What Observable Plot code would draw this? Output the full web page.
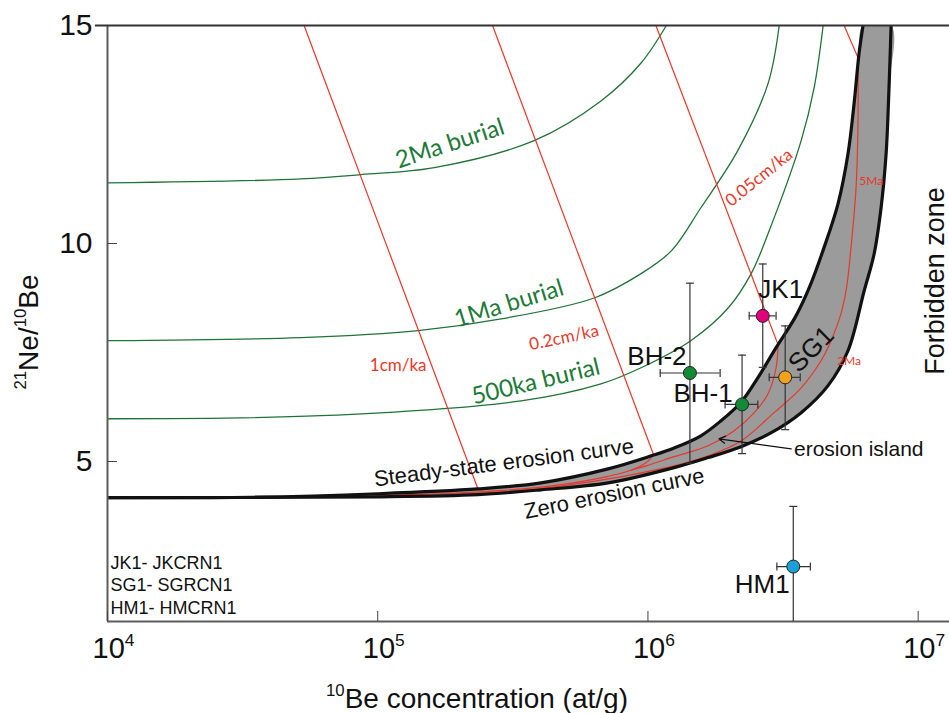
<!DOCTYPE html>
<html>
<head>
<meta charset="utf-8">
<script src="https://cdn.jsdelivr.net/npm/d3@7"></script>
<script src="https://cdn.jsdelivr.net/npm/@observablehq/plot@0.6"></script>
<style>
  body { margin: 0; background: #fff; }
  #chart svg { display: block; }
</style>
</head>
<body>
<div id="chart"></div>
<script>
// ---------- axes ----------
const xTicks = [1e4, 1e5, 1e6, 1e7];
const yTicks = [5, 10, 15];
const xDomain = [1e4, 1.306e7];
const yDomain = [1.33, 15];

// ---------- erosion island (10Be at/g, 21Ne/10Be) ----------
const steadyStateCurve = [[1e4,4.17],[3.4e4,4.18],[1e5,4.26],[2.35e5,4.37],[4.02e5,4.51],[7.12e5,4.83],[1.03e6,5.13],[1.25e6,5.31],[1.57e6,5.59],[1.86e6,5.93],[2.21e6,6.36],[2.55e6,6.92],[2.98e6,7.61],[3.53e6,8.34],[3.95e6,8.98],[4.48e6,9.90],[5.05e6,10.91],[5.50e6,12.06],[5.79e6,13.20],[6.04e6,14.35],[6.25e6,15]];
const zeroErosionCurve = [[1e4,4.17],[1e5,4.19],[2.35e5,4.24],[4.02e5,4.35],[7.12e5,4.51],[1.25e6,4.86],[1.67e6,5.09],[2.21e6,5.34],[2.86e6,5.66],[3.69e6,6.12],[4.64e6,6.74],[5.50e6,7.54],[6.31e6,8.91],[6.87e6,9.76],[7.29e6,10.82],[7.61e6,12.06],[7.80e6,13.57],[7.94e6,15]];

// ---------- burial isochrons (green) ----------
const burial2Ma = [[1e4,11.39],[5.2e4,11.48],[8.67e4,11.58],[1.62e5,11.74],[3.79e5,12.36],[6.7e5,13.27],[9.43e5,14.14],[1.17e6,15]];
const burial1Ma = [[1e4,7.77],[5.2e4,7.84],[1.41e5,8.0],[2.86e5,8.27],[6.32e5,8.75],[9.43e5,9.31],[1.22e6,9.83],[1.57e6,10.82],[2.15e6,12.13],[2.78e6,13.66],[3.06e6,15]];
const burial500ka = [[1e4,5.98],[6.17e4,6.05],[3.39e5,6.39],[6.7e5,6.78],[9.43e5,7.15],[1.44e6,7.77],[1.98e6,8.52],[2.41e6,9.31],[2.78e6,10.22],[3.69e6,12.36],[4.12e6,13.57],[4.45e6,15]];

// ---------- erosion-rate burial trajectories (red) ----------
const rateLabels = ["1cm/ka", "0.2cm/ka", "0.05cm/ka", ""];
const rateTop = [[5.34e4,15],[2.66e5,15],[1.07e6,15],[5.32e6,15]];
const rateEnd = [[2.35e5,4.37],[1.05e6,5.15],[3.03e6,7.68],[5.99e6,14.26]];
// red curves inside the island
const islandCurveA = [[1.05e6,5.15],[9.84e5,4.97],[8.66e5,4.80],[7.12e5,4.66],[4.77e5,4.47],[2.86e5,4.33],[1.87e5,4.27],[1e5,4.22]];
const islandCurveB = [[3.03e6,7.68],[2.98e6,7.15],[2.78e6,6.55],[2.45e6,6.09],[2.08e6,5.70],[1.67e6,5.36],[1.25e6,5.11],[9.84e5,4.90],[8.66e5,4.80]];
const islandCurveC = [[5.99e6,14.26],[5.99e6,12.81],[5.89e6,11.28],[5.64e6,9.90],[5.43e6,8.98],[5.18e6,8.39],[4.76e6,7.77],[4.37e6,7.31],[3.69e6,6.69],[2.93e6,6.12],[2.21e6,5.47],[1.67e6,5.13],[1.25e6,4.90],[9.43e5,4.74],[7.12e5,4.60],[4.02e5,4.38],[2.35e5,4.27]];

// ---------- samples ----------
const samples = ["JK1", "SG1", "BH-2", "BH-1", "HM1"];
const be10 = [2.66e6, 3.22e6, 1.43e6, 2.23e6, 3.45e6];
const be10Low = [2.37e6, 2.81e6, 1.11e6, 1.93e6, 3.00e6];
const be10High = [2.98e6, 3.66e6, 1.85e6, 2.55e6, 3.99e6];
const ratio = [8.34, 6.93, 7.03, 6.31, 2.59];
const ratioLow = [7.16, 5.73, 4.96, 5.18, 1.2];
const ratioHigh = [9.53, 8.11, 9.09, 7.44, 3.97];
const sampleColors = ["#e4007c", "#f6a11b", "#128a36", "#128a36", "#1ba0da"];

// ---------- texts ----------
const legendLines = ["JK1- JKCRN1", "SG1- SGRCN1", "HM1- HMCRN1"];
const burialLabels = [
  {text: "2Ma burial", x: 1.85e5, y: 12.29, rotate: -18},
  {text: "1Ma burial", x: 3.06e5, y: 8.62, rotate: -17},
  {text: "500ka burial", x: 3.85e5, y: 6.83, rotate: -13.5}
];
const rateLabelPos = [
  {text: rateLabels[0], x: 1.19e5, y: 7.19, rotate: 0},
  {text: rateLabels[1], x: 4.89e5, y: 7.84, rotate: -12},
  {text: rateLabels[2], x: 2.58e6, y: 11.51, rotate: -39}
];
const ageLabels = [
  {text: "5Ma", x: 6.70e6, y: 11.44},
  {text: "2Ma", x: 5.55e6, y: 7.29}
];
const curveLabels = [
  {text: "Steady-state erosion curve", x: 2.93e5, y: 4.97, rotate: -7.3},
  {text: "Zero erosion curve", x: 7.5e5, y: 4.26, rotate: -11.6}
];
const islandNote = {text: "erosion island", x: 3.47e6, y: 5.27};
const islandArrow = {x1: 3.39e6, y1: 5.29, x2: 1.83e6, y2: 5.52};
const forbidden = {text: "Forbidden zone", y: 9.14};
const xLabel = {text: "^10Be concentration (at/g)", x: 2.33e5};
const yLabel = {text: "^21Ne/^10Be", y: 7.97};

// label offsets (px) for sample names
const labelDx = [18, 26, -33, -39, -31];
const labelDy = [-26, -28, -16, -11, 18];
const labelRot = [0, -45, 0, 0, 0];

// ---------- helpers ----------
const pts = arr => arr.map(([x, y]) => ({x, y}));
const RED = "#e8372a", GREEN = "#1f7336", GREEN_TXT = "#1d7a38";
const LATO = "Lato, 'Open Sans', sans-serif";
const idx = samples.map((_, i) => i);
const hCap = {draw(ctx, size) { const r = Math.sqrt(size / Math.PI); ctx.moveTo(-r, 0); ctx.lineTo(r, 0); }};
const vCap = {draw(ctx, size) { const r = Math.sqrt(size / Math.PI); ctx.moveTo(0, -r); ctx.lineTo(0, r); }};
const islandPolygon = [...pts(steadyStateCurve), ...pts(zeroErosionCurve).reverse()];
const redLines = rateTop.map((t, i) => ({x1: t[0], y1: t[1], x2: rateEnd[i][0], y2: rateEnd[i][1]}));

const marks = [
  // burial curves
  ...[burial2Ma, burial1Ma, burial500ka].map(c =>
    Plot.line(pts(c), {x: "x", y: "y", stroke: GREEN, strokeWidth: 1.3, curve: "catmull-rom", clip: true})),
  // red erosion-rate lines
  Plot.link(redLines, {x1: "x1", y1: "y1", x2: "x2", y2: "y2", stroke: RED, strokeWidth: 1.2, clip: true}),
  // island
  Plot.line(islandPolygon, {x: "x", y: "y", fill: "#9b9b9b", stroke: "none", curve: "catmull-rom", clip: true}),
  ...[islandCurveA, islandCurveB, islandCurveC].map(c =>
    Plot.line(pts(c), {x: "x", y: "y", stroke: RED, strokeWidth: 1.2, curve: "catmull-rom", clip: true})),
  Plot.line(pts(steadyStateCurve), {x: "x", y: "y", stroke: "#111", strokeWidth: 3.2, curve: "catmull-rom", clip: true}),
  Plot.line(pts(zeroErosionCurve), {x: "x", y: "y", stroke: "#111", strokeWidth: 3.2, curve: "catmull-rom", clip: true}),
  // frame
  Plot.ruleX([xDomain[0]], {stroke: "#5c5c5c", strokeWidth: 2}),
  Plot.ruleY([yDomain[0]], {stroke: "#5c5c5c", strokeWidth: 2}),
  Plot.ruleY([yDomain[1]], {stroke: "#333", strokeWidth: 2}),
  // axes
  Plot.axisX({ticks: xTicks, tickSize: -10, tickFormat: () => "", stroke: "#444", label: null}),
  Plot.axisX({ticks: xTicks, tickSize: 0, tickPadding: 16, fontSize: 29, label: null, dx: 6,
    tickFormat: d => "10^" + Math.round(Math.log10(d))}),
  Plot.axisY({ticks: yTicks.slice(0, 2), tickSize: -10, tickFormat: () => "", stroke: "#444", label: null}),
  Plot.axisY({ticks: yTicks.slice(2), tickSize: 12, tickFormat: () => "", stroke: "#333", strokeWidth: 2, label: null}),
  Plot.axisY({ticks: yTicks, tickSize: 0, tickPadding: 15, fontSize: 30, label: null, tickFormat: d => String(d)}),
  // error bars
  Plot.ruleX(idx, {x: i => be10[i], y1: i => ratioLow[i], y2: i => ratioHigh[i], stroke: "#333", strokeWidth: 1.2, clip: true}),
  Plot.ruleY(idx, {y: i => ratio[i], x1: i => be10Low[i], x2: i => be10High[i], stroke: "#333", strokeWidth: 1.2, clip: true}),
  Plot.dot(idx.flatMap(i => [{x: be10[i], y: ratioLow[i]}, {x: be10[i], y: ratioHigh[i]}]),
    {x: "x", y: "y", symbol: hCap, r: 4, stroke: "#333", strokeWidth: 1.2, fill: "none", clip: true}),
  Plot.dot(idx.flatMap(i => [{x: be10Low[i], y: ratio[i]}, {x: be10High[i], y: ratio[i]}]),
    {x: "x", y: "y", symbol: vCap, r: 4, stroke: "#333", strokeWidth: 1.2, fill: "none", clip: true}),
  Plot.dot(idx, {x: i => be10[i], y: i => ratio[i], r: 6.5, fill: i => sampleColors[i], stroke: "#222", strokeWidth: 1}),
  // sample labels
  ...idx.map(i => Plot.text([i], {x: i => be10[i], y: i => ratio[i], text: i => samples[i],
    dx: labelDx[i], dy: labelDy[i], rotate: labelRot[i], fontSize: 26, fill: "#111"})),
  // annotations
  Plot.text(burialLabels, {x: "x", y: "y", text: "text", rotate: "rotate", fill: GREEN_TXT, fontSize: 24, fontFamily: LATO}),
  Plot.text(rateLabelPos, {x: "x", y: "y", text: "text", rotate: "rotate", fill: RED, fontSize: 17, fontFamily: LATO}),
  Plot.text(ageLabels, {x: "x", y: "y", text: "text", fill: RED, fontSize: 12, textAnchor: "middle", fontFamily: LATO}),
  Plot.text(curveLabels, {x: "x", y: "y", text: "text", rotate: "rotate", fill: "#111", fontSize: 22}),
  Plot.text([islandNote], {x: "x", y: "y", text: "text", textAnchor: "start", fill: "#111", fontSize: 21}),
  Plot.arrow([islandArrow], {x1: "x1", y1: "y1", x2: "x2", y2: "y2", stroke: "#111", strokeWidth: 1.2, headLength: 9}),
  Plot.text([forbidden], {y: "y", text: "text", frameAnchor: "right", dx: -6, rotate: -90, textAnchor: "middle", lineAnchor: "bottom", fontSize: 27, fill: "#111"}),
  Plot.text([legendLines.join("\n")], {frameAnchor: "bottom-left", dx: 3, dy: -8, textAnchor: "start", lineAnchor: "bottom", fontSize: 18, lineHeight: 1.25, fill: "#111"}),
  Plot.text([xLabel], {x: "x", text: "text", frameAnchor: "bottom", dy: 86, textAnchor: "middle", lineAnchor: "bottom", fontSize: 28, fill: "#111"}),
  Plot.text([yLabel], {y: "y", text: "text", frameAnchor: "left", dx: -70, rotate: -90, textAnchor: "middle", lineAnchor: "bottom", fontSize: 28, fill: "#111"})
];

const chart = Plot.plot({
  width: 949,
  height: 713,
  marginLeft: 107,
  marginRight: 0,
  marginTop: 25,
  marginBottom: 92,
  x: {type: "log", domain: xDomain, label: null},
  y: {domain: yDomain, label: null},
  color: {type: "identity"},
  style: {fontFamily: "'Liberation Sans', Arial, sans-serif", background: "white", color: "#111", overflow: "visible"},
  marks
});

// superscripts: "^10" -> raised smaller digits
function supify(root) {
  root.querySelectorAll("text").forEach(t => {
    if (t.children.length) return;
    const s = t.textContent;
    if (!s.includes("^")) return;
    t.textContent = "";
    s.split(/\^(\d+)/).forEach((p, i) => {
      if (!p) return;
      const ts = document.createElementNS("http://www.w3.org/2000/svg", "tspan");
      ts.textContent = p;
      if (i % 2 === 1) { ts.setAttribute("font-size", "60%"); ts.setAttribute("dy", "-0.7em"); }
      else if (i > 0) { ts.setAttribute("dy", "0.42em"); }
      t.appendChild(ts);
    });
  });
}
supify(chart);
document.getElementById("chart").appendChild(chart);
</script>
</body>
</html>
